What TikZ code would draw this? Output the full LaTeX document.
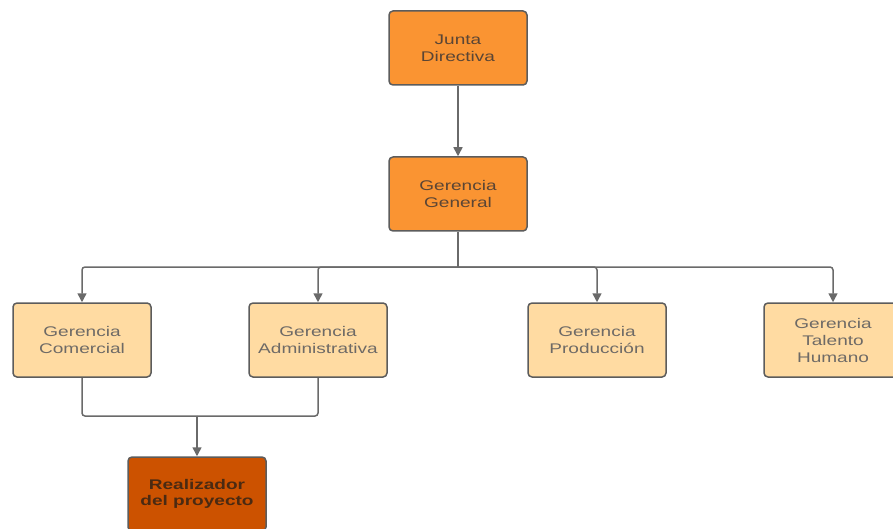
\documentclass[tikz,border=0pt]{standalone}
\usepackage{fontspec}
\setmainfont{Liberation Sans}[FakeStretch=1.36]
\usetikzlibrary{arrows.meta}
\definecolor{topor}{HTML}{FA9432}
\definecolor{lightor}{HTML}{FFDBA2}
\definecolor{darkor}{HTML}{CC5200}
\definecolor{edgegray}{HTML}{5C5C5C}
\definecolor{linegray}{HTML}{6A6A6A}
\definecolor{txtA}{HTML}{5A4535}
\definecolor{txtB}{HTML}{6E6A66}
\definecolor{txtC}{HTML}{4A2A12}
\tikzset{
  box/.style={draw=edgegray, line width=1.5pt, rounded corners=4pt,
    minimum width=138pt, minimum height=74pt, inner sep=2pt,
    align=center, font=\fontsize{14}{17}\selectfont},
  topbox/.style={box, fill=topor, text=txtA},
  midbox/.style={box, fill=lightor, text=txtB},
  lowbox/.style={box, fill=darkor, text=txtC, font=\fontsize{14}{16}\selectfont\bfseries},
  conn/.style={draw=linegray, line width=1.5pt, rounded corners=3pt},
  arr/.style={conn, -{Triangle[width=9pt,length=9pt]}},
}
\begin{document}
\begin{tikzpicture}[x=1pt,y=-1pt]
\useasboundingbox (0,0) rectangle (893,529);
\clip (0,0) rectangle (893,529);
\node[topbox] (jd) at (458,48) {Junta\\Directiva};
\node[topbox] (gg) at (458,194) {Gerencia\\General};
\node[midbox] (gc) at (82,340) {Gerencia\\Comercial};
\node[midbox] (ga) at (318,340) {Gerencia\\Administrativa};
\node[midbox] (gp) at (597,340) {Gerencia\\Producción};
\node[midbox] (gt) at (833,340) {Gerencia\\Talento\\Humano};
\node[lowbox] (rp) at (197,494) {Realizador\\del proyecto};
\coordinate (bus) at (458,267);
\coordinate (mg) at (197,416);
\draw[arr] (jd) -- (gg);
\draw[conn] (gg.south) -- (bus);
\draw[arr] (bus) -| (gc.north);
\draw[arr] (bus) -| (ga.north);
\draw[arr] (bus) -| (gp.north);
\draw[arr] (bus) -| (gt.north);
\draw[conn] (gc.south) |- (mg);
\draw[conn] (ga.south) |- (mg);
\draw[arr] (mg) -- (rp.north);
\end{tikzpicture}
\end{document}
